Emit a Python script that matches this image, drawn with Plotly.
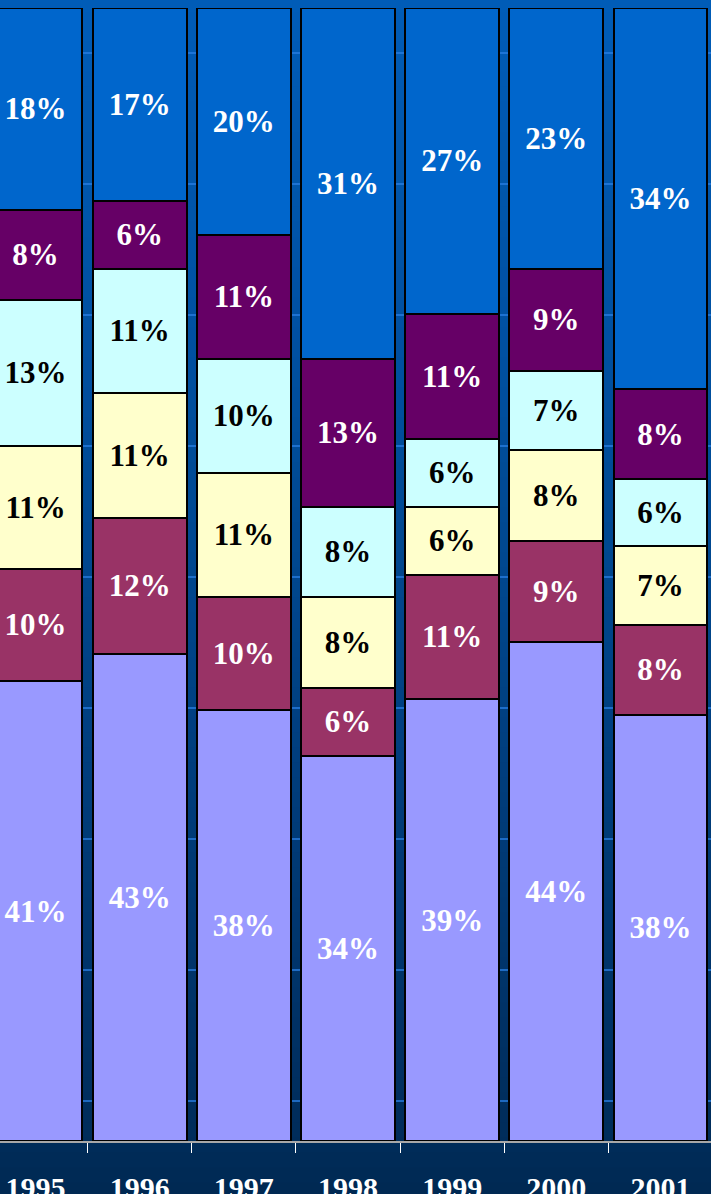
import plotly.graph_objects as go

years = ["1995", "1996", "1997", "1998", "1999", "2000", "2001"]

# stacked series, bottom to top (percent values as labelled)
s1_lavender = [41, 43, 38, 34, 39, 44, 38]
s2_maroon = [10, 12, 10, 6, 11, 9, 8]
s3_yellow = [11, 11, 11, 8, 6, 8, 7]
s4_cyan = [13, 11, 10, 8, 6, 7, 6]
s5_purple = [8, 6, 11, 13, 11, 9, 8]
s6_blue = [18, 17, 20, 31, 27, 23, 34]

series = [
    (s1_lavender, "#9999FF", "white"),
    (s2_maroon, "#993366", "white"),
    (s3_yellow, "#FFFFCC", "black"),
    (s4_cyan, "#CCFFFF", "black"),
    (s5_purple, "#660066", "white"),
    (s6_blue, "#0066CC", "white"),
]

FONT = "Liberation Serif, Times New Roman, serif"

fig = go.Figure()
for vals, col, tcol in series:
    fig.add_trace(go.Bar(
        x=years, y=vals,
        marker=dict(color=col, line=dict(color="black", width=2)),
        text=[f"{v}%" for v in vals],
        textposition="inside",
        insidetextanchor="middle",
        textangle=0,
        constraintext="none",
        textfont=dict(family=FONT, size=31, color=tcol, weight="bold"),
        hoverinfo="skip",
    ))

# background gradient (template look) as thin bands
shapes = []
stops = [(-0.05, (0, 40, 82)), (0.0, (0, 44, 90)), (0.3, (0, 60, 122)),
         (0.65, (0, 78, 156)), (1.01, (0, 92, 184))]
n = 80
y0, y1 = -0.05, 1.01
def interp(y):
    for (ya, ca), (yb, cb) in zip(stops[:-1], stops[1:]):
        if ya <= y <= yb:
            t = (y - ya) / (yb - ya)
            return tuple(int(round(a + (b - a) * t)) for a, b in zip(ca, cb))
    return stops[-1][1]
for i in range(n):
    ya = y0 + (y1 - y0) * i / n
    yb = y0 + (y1 - y0) * (i + 1) / n
    c = interp((ya + yb) / 2)
    shapes.append(dict(type="rect", xref="paper", yref="paper", x0=-0.01, x1=1.01,
                       y0=ya, y1=yb + 0.002, fillcolor=f"rgb{c}", line=dict(width=0),
                       layer="below"))

fig.update_layout(
    barmode="stack",
    barnorm="percent",
    bargap=0.1,
    width=711, height=1194,
    margin=dict(l=0, r=0, t=8, b=53, autoexpand=False),
    paper_bgcolor="#002a55",
    plot_bgcolor="rgba(0,0,0,0)",
    showlegend=False,
    shapes=shapes,
    xaxis=dict(
        type="category",
        range=[-0.341, 6.485],
        automargin=False,
        tickson="boundaries",
        ticks="outside", ticklen=10, tickcolor="white", tickwidth=1,
        showline=True, linecolor="#a8a8a8", linewidth=2,
        showgrid=False,
        tickfont=dict(family=FONT, size=30, color="white", weight="bold"),
        ticklabelstandoff=19,
    ),
    yaxis=dict(
        range=[0, 100],
        automargin=False,
        showticklabels=False,
        showgrid=True, gridcolor="rgba(40,125,225,0.75)", gridwidth=2,
        tick0=3.53, dtick=11.56,
        zeroline=False, showline=False,
    ),
)

fig.write_html(
    "out.html",
    config={"displayModeBar": False},
    post_script="document.body.style.margin='0';document.body.style.overflow='hidden';",
)
